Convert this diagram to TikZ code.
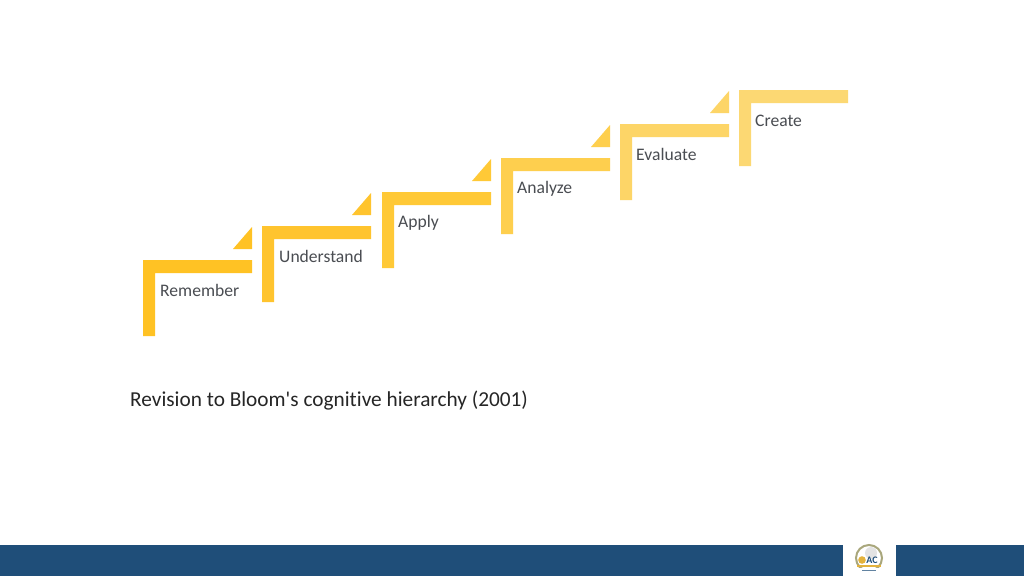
\documentclass[tikz,border=0pt]{standalone}
\usepackage{fontspec}
\setmainfont[Ligatures=NoCommon]{Carlito}
\definecolor{barblue}{HTML}{1F4E79}
\definecolor{inkgrey}{HTML}{4A4D52}
\definecolor{capink}{HTML}{262626}
\definecolor{stepA}{HTML}{FFC224}
\definecolor{stepB}{HTML}{FFC42E}
\definecolor{stepC}{HTML}{FFC937}
\definecolor{stepD}{HTML}{FECF4E}
\definecolor{stepE}{HTML}{FDD567}
\definecolor{stepF}{HTML}{FCD873}
\definecolor{logoring}{HTML}{A9A77C}
\definecolor{logogold}{HTML}{E3B23C}
\tikzset{
  steplabel/.style={font=\fontsize{17.6}{21}\selectfont, text=inkgrey, inner sep=0pt, anchor=west},
  barstyle/.style={fill=barblue, draw=none},
}
\newcommand{\stair}[3]{%
  \fill[#3] (#1,#2) -- (#1+109,#2) -- (#1+109,#2+13) -- (#1+12,#2+13) -- (#1+12,#2+76) -- (#1,#2+76) -- cycle;
}
\newcommand{\tri}[3]{%
  \fill[#3] (#1,#2) -- (#1,#2+22) -- (#1-19,#2+22) -- cycle;
}
\begin{document}
\begin{tikzpicture}[x=1pt,y=-1pt]
\useasboundingbox (0,0) rectangle (1024,576);
\fill[white] (0,0) rectangle (1024,576);
\stair{143}{260}{stepA}
\stair{262}{226}{stepB}
\stair{382}{192}{stepC}
\stair{501}{158}{stepD}
\stair{620}{124}{stepE}
\stair{739}{90}{stepF}
\tri{252}{227}{stepA}
\tri{371}{193}{stepB}
\tri{491}{159}{stepC}
\tri{610}{125}{stepD}
\tri{729}{91}{stepE}
\node[steplabel] (l1) at (160,290.5) {Remember};
\node[steplabel] (l2) at (279,256.5) {Understand};
\node[steplabel] (l3) at (398,222.5) {Apply};
\node[steplabel] (l4) at (517,188.5) {Analyze};
\node[steplabel] (l5) at (636,154.5) {Evaluate};
\node[steplabel] (l6) at (755,120.5) {Create};
\node[inner sep=0pt, anchor=west, text=capink, font=\fontsize{21.3}{25}\selectfont] (cap) at (130,400.3) {Revision to Bloom\textquotesingle s cognitive hierarchy (2001)};
\fill[barstyle] (0,545) rectangle (843,576);
\fill[barstyle] (896,545) rectangle (1024,576);
% logo
\draw[draw=logoring, line width=2pt] (869,558) circle (13);
\fill[gray!22] (871,553) circle (6);
\fill[logogold] (862,560) circle (3.8);
\node[inner sep=0pt, text=barblue, font=\bfseries\fontsize{10}{10}\selectfont] (logotext) at (872,560.5) {AC};
\fill[logogold] (857,565) rectangle (881,567);
\fill[white] (855,568) rectangle (883,572);
\fill[barblue!70] (862,570) rectangle (876,571.2);
\end{tikzpicture}
\end{document}
